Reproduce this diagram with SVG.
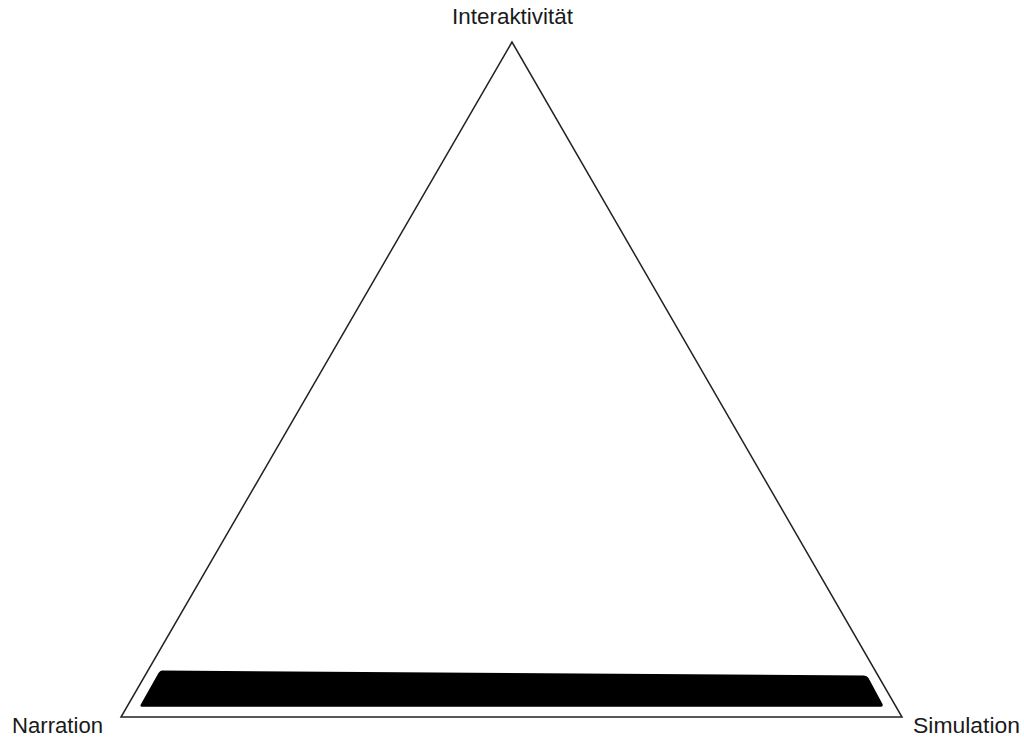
<svg xmlns="http://www.w3.org/2000/svg" width="1024" height="738" viewBox="0 0 1024 738">
<style>
.lbl{font-family:"Liberation Sans",Arial,sans-serif;font-size:21.5px;fill:#1a1a1a}
</style>
<rect width="1024" height="738" fill="#fff"/>
<g id="triangle">
<polygon points="512,42 121,717 902,717" fill="none" stroke="#222" stroke-width="1.5" stroke-linejoin="miter"/>
</g>
<g id="bar">
<path d="M162,670.5 L864,675.5 Q867,675.5 868.5,678 L882.5,704 Q883.5,706.7 880.5,706.7 L142,706.7 Q139.5,706.7 141,704 L158.5,673 Q160,670.5 162,670.5 Z" fill="#000"/>
</g>
<g id="labels">
<text class="lbl" x="452" y="24" textLength="121" lengthAdjust="spacingAndGlyphs">Interaktivität</text>
<text class="lbl" x="12" y="733" textLength="91" lengthAdjust="spacingAndGlyphs">Narration</text>
<text class="lbl" x="913" y="733" textLength="107" lengthAdjust="spacingAndGlyphs">Simulation</text>
</g>
</svg>
